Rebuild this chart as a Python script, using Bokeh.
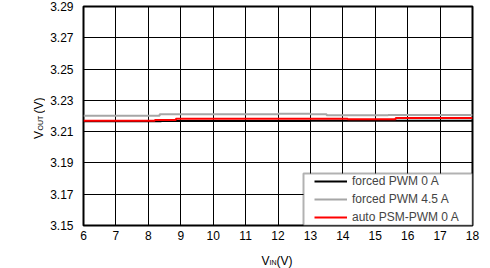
import math
from bokeh.plotting import figure
from bokeh.layouts import column, row
from bokeh.models import (Range1d, FixedTicker, PrintfTickFormatter, Legend, LegendItem,
                          Label, BoxAnnotation)
from bokeh.embed import file_html
from bokeh.resources import INLINE

# ---- data ----
x_ticks = [6, 7, 8, 9, 10, 11, 12, 13, 14, 15, 16, 17, 18]
y_ticks = [3.15, 3.17, 3.19, 3.21, 3.23, 3.25, 3.27, 3.29]

vin_pwm0 = [6, 8.4, 13.0, 18]
vout_pwm0 = [3.2167, 3.2168, 3.2170, 3.2170]

vin_pwm45 = [6, 8.35, 12.0, 13.0, 13.5, 15.4, 18]
vout_pwm45 = [3.2202, 3.2211, 3.2214, 3.2211, 3.2205, 3.2206, 3.2206]

vin_psm0 = [6, 8.2, 8.85, 14.15, 15.63, 18]
vout_psm0 = [3.2170, 3.2175, 3.2183, 3.2180, 3.2187, 3.2187]

labels = ["forced PWM 0 A", "forced PWM 4.5 A", "auto PSM-PWM 0 A"]
colors = ["#000000", "#A6A6A6", "#FF0000"]

FONT = "Liberation Sans"

p = figure(width=445, height=248, output_backend="svg", toolbar_location=None,
           x_range=Range1d(6, 18), y_range=Range1d(3.15, 3.29),
           min_border_left=38, min_border_right=18, min_border_top=6, min_border_bottom=23)
p.background_fill_color = "white"
p.border_fill_color = "white"
p.outline_line_color = "black"
p.outline_line_width = 2

for ax in (p.xaxis[0], p.yaxis[0]):
    ax.axis_line_color = None
    ax.major_tick_line_color = None
    ax.minor_tick_line_color = None
    ax.major_tick_out = 0
    ax.major_tick_in = 0
    ax.major_label_text_font = FONT
    ax.major_label_text_font_size = "12px"
    ax.major_label_text_color = "black"

p.xaxis.ticker = FixedTicker(ticks=x_ticks)
p.yaxis.ticker = FixedTicker(ticks=y_ticks)
p.yaxis.formatter = PrintfTickFormatter(format="%.2f")
p.xaxis.formatter = PrintfTickFormatter(format="%d")
p.xaxis.major_label_standoff = 5
p.yaxis.major_label_standoff = 10

p.xgrid.ticker = FixedTicker(ticks=x_ticks)
p.ygrid.ticker = FixedTicker(ticks=y_ticks)
for g in (p.xgrid[0], p.ygrid[0]):
    g.grid_line_color = "black"
    g.grid_line_width = 1
    g.grid_line_alpha = 1

r0 = p.step(vin_pwm0, vout_pwm0, mode="after", line_color=colors[0], line_width=2)
r1 = p.step(vin_pwm45, vout_pwm45, mode="after", line_color=colors[1], line_width=2)
r2 = p.step(vin_psm0, vout_psm0, mode="after", line_color=colors[2], line_width=2)

box = BoxAnnotation(left=220, right=389, bottom=0, top=52,
                    left_units="screen", right_units="screen",
                    bottom_units="screen", top_units="screen",
                    fill_color="white", fill_alpha=1, line_color="black", line_width=2)
p.add_layout(box)

legend = Legend(items=[LegendItem(label=labels[0], renderers=[r0]),
                       LegendItem(label=labels[1], renderers=[r1]),
                       LegendItem(label=labels[2], renderers=[r2])],
                location=(231, 0), padding=0, spacing=2, margin=0,
                label_height=16, glyph_height=16, glyph_width=33, label_standoff=5,
                border_line_alpha=0, background_fill_alpha=0,
                label_text_font=FONT, label_text_font_size="12px")
p.add_layout(legend, "center")


def lab(text, x, y, size, angle=0):
    return Label(x=x, y=y, x_units="screen", y_units="screen", text=text,
                 text_font=FONT, text_font_size=size, text_color="black",
                 text_align="left", text_baseline="alphabetic", angle=angle)


def blank(w, h):
    f = figure(width=w, height=h, output_backend="svg", toolbar_location=None,
               x_range=Range1d(0, 1), y_range=Range1d(0, 1),
               x_axis_type=None, y_axis_type=None,
               min_border=0, min_border_left=0, min_border_right=0,
               min_border_top=0, min_border_bottom=0)
    f.outline_line_color = None
    f.xgrid.visible = False
    f.ygrid.visible = False
    f.background_fill_color = "white"
    f.border_fill_color = "white"
    return f

# y title panel (its frame is aligned with the main frame: bottom at 225)
fy = blank(45, 248)
a = math.pi / 2
fy.add_layout(lab("V", 38, 225 - 138.5, "12px", angle=a))
fy.add_layout(lab("OUT", 39.5, 225 - 130, "7px", angle=a))
fy.add_layout(lab("(V)", 38, 225 - 113, "12px", angle=a))

# x title panel
fx = blank(490, 20)
fx.add_layout(lab("V", 261, 8, "12px"))
fx.add_layout(lab("IN", 269, 6.5, "7px"))
fx.add_layout(lab("(V)", 276, 8, "12px"))

layout = column(row(fy, p), fx)
open("out.html", "w").write(file_html(layout, INLINE))
